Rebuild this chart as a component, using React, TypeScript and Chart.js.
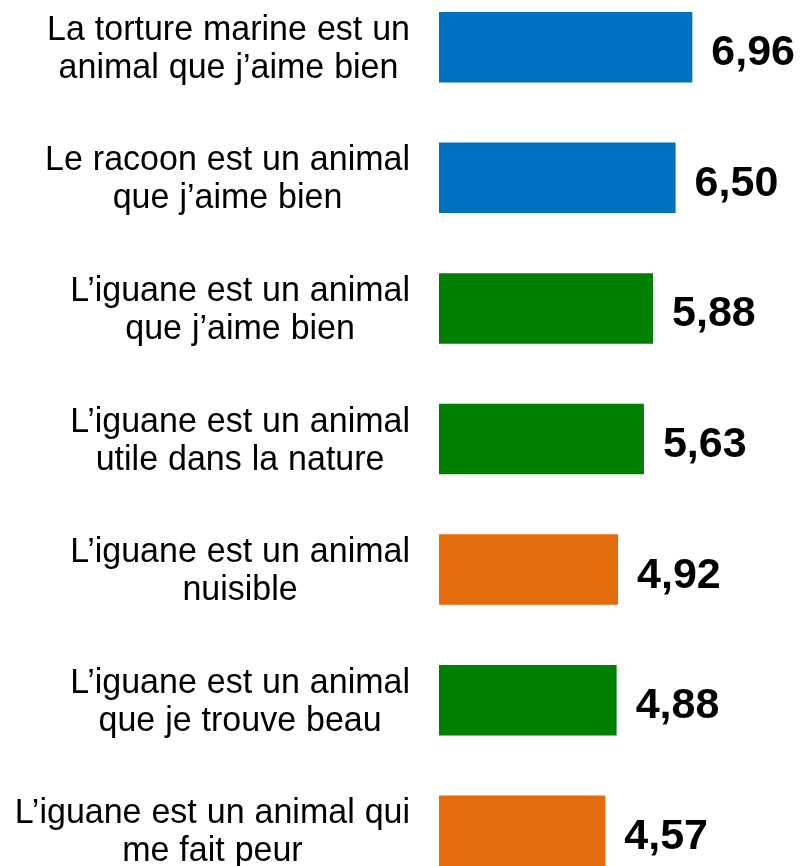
import React, { useEffect, useRef } from "react";
import { Chart, registerables } from "chart.js";

Chart.register(...registerables);

const categories: string[][] = [
  ["La torture marine est un", "animal que j’aime bien"],
  ["Le racoon est un animal", "que j’aime bien"],
  ["L’iguane est un animal", "que j’aime bien"],
  ["L’iguane est un animal", "utile dans la nature"],
  ["L’iguane est un animal", "nuisible"],
  ["L’iguane est un animal", "que je trouve beau"],
  ["L’iguane est un animal qui", "me fait peur"],
];

const values: number[] = [6.96, 6.5, 5.88, 5.63, 4.92, 4.88, 4.57];

const valueLabels: string[] = ["6,96", "6,50", "5,88", "5,63", "4,92", "4,88", "4,57"];

const BLUE = "#0070C0";
const GREEN = "#008000";
const ORANGE = "#E46C0A";
const barColors: string[] = [BLUE, BLUE, GREEN, GREEN, ORANGE, GREEN, ORANGE];

const FONT = "'Liberation Sans', Arial, Helvetica, sans-serif";

const WORD_GAP = 0.5;
const V_STRETCH = 1.03;

function lineWidth(ctx: CanvasRenderingContext2D, line: string): number {
  const words = line.split(" ");
  const space = ctx.measureText(" ").width + WORD_GAP;
  return words.reduce((s, w) => s + ctx.measureText(w).width, 0) + space * (words.length - 1);
}

const labelsPlugin = {
  id: "customLabels",
  afterDatasetsDraw(chart: any) {
    const { ctx, chartArea } = chart;
    const yScale = chart.scales.y;
    const meta = chart.getDatasetMeta(0);
    ctx.save();
    ctx.font = `34px ${FONT}`;
    ctx.fillStyle = "#000000";
    ctx.textAlign = "left";
    ctx.textBaseline = "alphabetic";
    const lineH = 38;
    const space = ctx.measureText(" ").width + WORD_GAP;
    categories.forEach((lines, i) => {
      const cy = yScale.getPixelForValue(i);
      const widths = lines.map((l) => lineWidth(ctx, l));
      const widest = Math.max(...widths);
      const right = chartArea.left - 29;
      const cx = right - widest / 2;
      const n = lines.length;
      lines.forEach((line, k) => {
        const y = cy + (k - (n - 1) / 2) * lineH + 11.5;
        let x = cx - widths[k] / 2;
        ctx.save();
        ctx.translate(0, y);
        ctx.scale(1, V_STRETCH);
        line.split(" ").forEach((w) => {
          ctx.fillText(w, x, 0);
          x += ctx.measureText(w).width + space;
        });
        ctx.restore();
      });
    });
    ctx.font = `bold 43px ${FONT}`;
    ctx.textAlign = "left";
    meta.data.forEach((bar: any, i: number) => {
      ctx.fillText(valueLabels[i], bar.x + 19, bar.y + 18);
    });
    ctx.restore();
  },
};

export default function App() {
  const canvasRef = useRef<HTMLCanvasElement | null>(null);

  useEffect(() => {
    if (!canvasRef.current) return;
    const chart = new Chart(canvasRef.current, {
      type: "bar",
      data: {
        labels: categories.map((c) => c.join(" ")),
        datasets: [
          {
            data: values,
            backgroundColor: barColors,
            borderWidth: 0,
            barPercentage: 0.54,
            categoryPercentage: 1,
          },
        ],
      },
      options: {
        indexAxis: "y",
        animation: false,
        responsive: false,
        maintainAspectRatio: false,
        layout: { padding: { left: 439, right: 0, top: 0, bottom: 0 } },
        plugins: {
          legend: { display: false },
          tooltip: { enabled: false },
          title: { display: false },
        },
        scales: {
          x: { display: false, min: 0, max: 10 },
          y: { display: false, offset: true },
        },
      },
      plugins: [labelsPlugin],
    });
    return () => chart.destroy();
  }, []);

  return (
    <div
      style={{
        position: "fixed",
        top: 0,
        left: 0,
        width: 803,
        height: 866,
        overflow: "hidden",
        background: "#ffffff",
      }}
    >
      <canvas
        ref={canvasRef}
        width={803}
        height={914}
        style={{ position: "absolute", top: -18, left: 0, width: 803, height: 914 }}
      />
    </div>
  );
}
